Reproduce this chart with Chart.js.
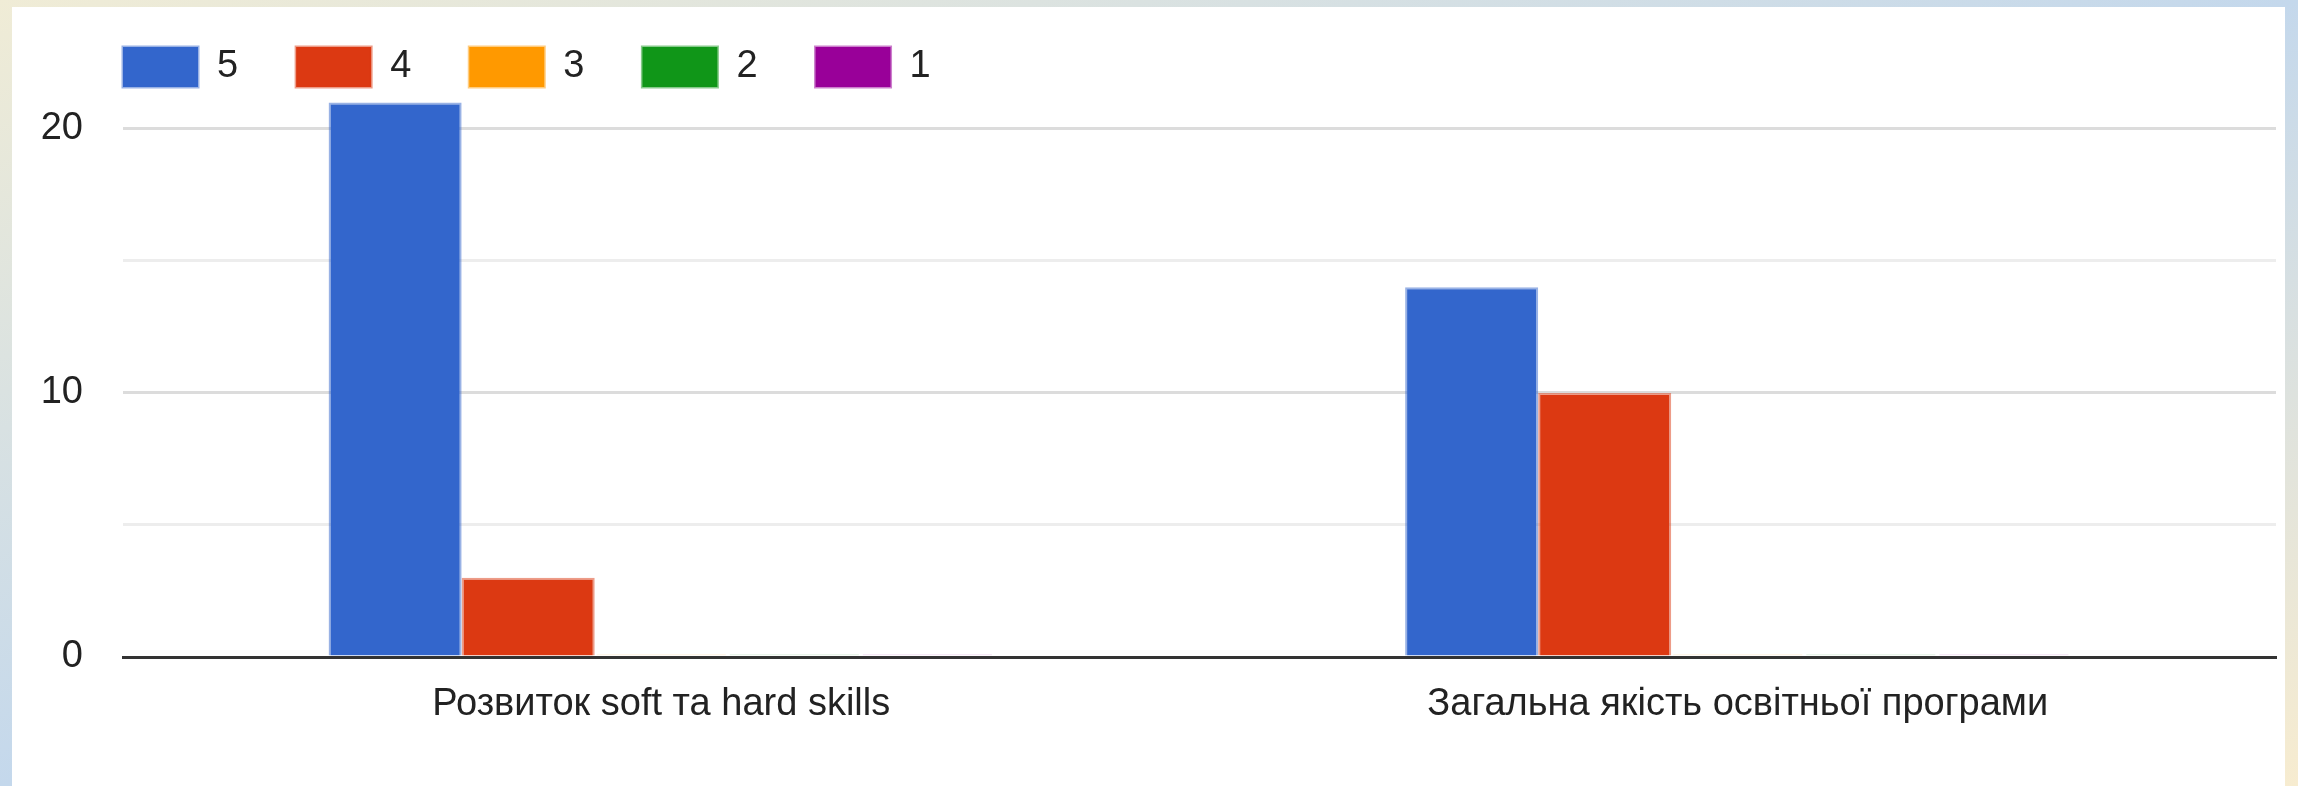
<!DOCTYPE html>
<html>
<head>
<meta charset="utf-8">
<script src="https://cdn.jsdelivr.net/npm/chart.js@4.4.0/dist/chart.umd.min.js"></script>
<style>
  html, body { margin: 0; padding: 0; }
  body {
    width: 2298px; height: 786px; overflow: hidden; position: relative;
    background: linear-gradient(to bottom right, #f0ecd6 0%, #c4d8ec 50%, #f7ecd0 100%);
  }
  #panel { position: absolute; left: 12px; top: 7px; width: 2273px; height: 779px; background: #fff; }
  #wrap { position: absolute; left: 0; top: 0; width: 2298px; height: 786px; }
</style>
</head>
<body>
<div id="panel"></div>
<div id="wrap"><canvas id="ratingChart"></canvas></div>
<script>
// data
const categories = ['Розвиток soft та hard skills', 'Загальна якість освітньої програми'];
const ratingLabels = ['5', '4', '3', '2', '1'];
const score5 = [21, 14];
const score4 = [3, 10];
const score3 = [0, 0];
const score2 = [0, 0];
const score1 = [0, 0];
const yTicks = [0, 5, 10, 15, 20];
const yLabelled = [0, 10, 20];

const colors = ['#3366cc', '#dc3912', '#ff9900', '#109618', '#990099'];

function fade(hex, a) {
    const n = parseInt(hex.slice(1), 16);
    return `rgba(${(n >> 16) & 255}, ${(n >> 8) & 255}, ${n & 255}, ${a})`;
}

const font = { family: "Arial, 'Liberation Sans', sans-serif", size: 38 };

const series = [score5, score4, score3, score2, score1];

// legend starts at the plot's left edge, like the original
const legendShift = {
    id: 'legendShift',
    afterLayout(chart) {
        chart.legend.left = chart.chartArea.left - chart.legend.options.labels.padding;
    }
};

new Chart(document.getElementById('ratingChart'), {
    type: 'bar',
    data: {
        labels: categories,
        datasets: series.map((values, i) => ({
            label: ratingLabels[i],
            data: values,
            backgroundColor: ctx => ctx.raw === 0 ? fade(colors[i], 0.12) : colors[i],
            borderColor: ctx => ctx.raw === 0 ? 'rgba(0,0,0,0)' : fade(colors[i], 0.5),
            borderWidth: 2,
            borderSkipped: 'bottom',
            minBarLength: 4,
            categoryPercentage: 0.618,
            barPercentage: 1
        }))
    },
    plugins: [legendShift],
    options: {
        responsive: true,
        maintainAspectRatio: false,
        animation: false,
        layout: {
            padding: { left: 20, right: 22, top: -11, bottom: 0 }
        },
        plugins: {
            tooltip: { enabled: false },
            legend: {
                position: 'top',
                align: 'start',
                labels: {
                    boxWidth: 75,
                    boxHeight: 40,
                    padding: 58,
                    color: '#222222',
                    font: font,
                    generateLabels: chart => Chart.defaults.plugins.legend.labels.generateLabels(chart)
                        .map((item, i) => Object.assign(item, {
                            fillStyle: colors[i],
                            strokeStyle: fade(colors[i], 0.5),
                            lineWidth: 3
                        }))
                }
            }
        },
        scales: {
            x: {
                grid: { display: false, drawTicks: false },
                border: { display: true, color: '#333333', width: 3 },
                ticks: { padding: 25, color: '#222222', font: font },
                afterFit: s => { s.height = 129; }
            },
            y: {
                min: 0,
                max: 21.21,
                afterBuildTicks: s => { s.ticks = yTicks.map(v => ({ value: v })); },
                grid: {
                    drawTicks: false,
                    lineWidth: 3,
                    color: ctx => yLabelled.includes(ctx.tick.value) ? '#dcdcdc' : '#ededed'
                },
                border: { display: false },
                ticks: {
                    padding: 40,
                    color: '#222222',
                    font: font,
                    callback: v => yLabelled.includes(v) ? v : ''
                },
                afterFit: s => { s.width = 103; }
            }
        }
    }
});
</script>
</body>
</html>
